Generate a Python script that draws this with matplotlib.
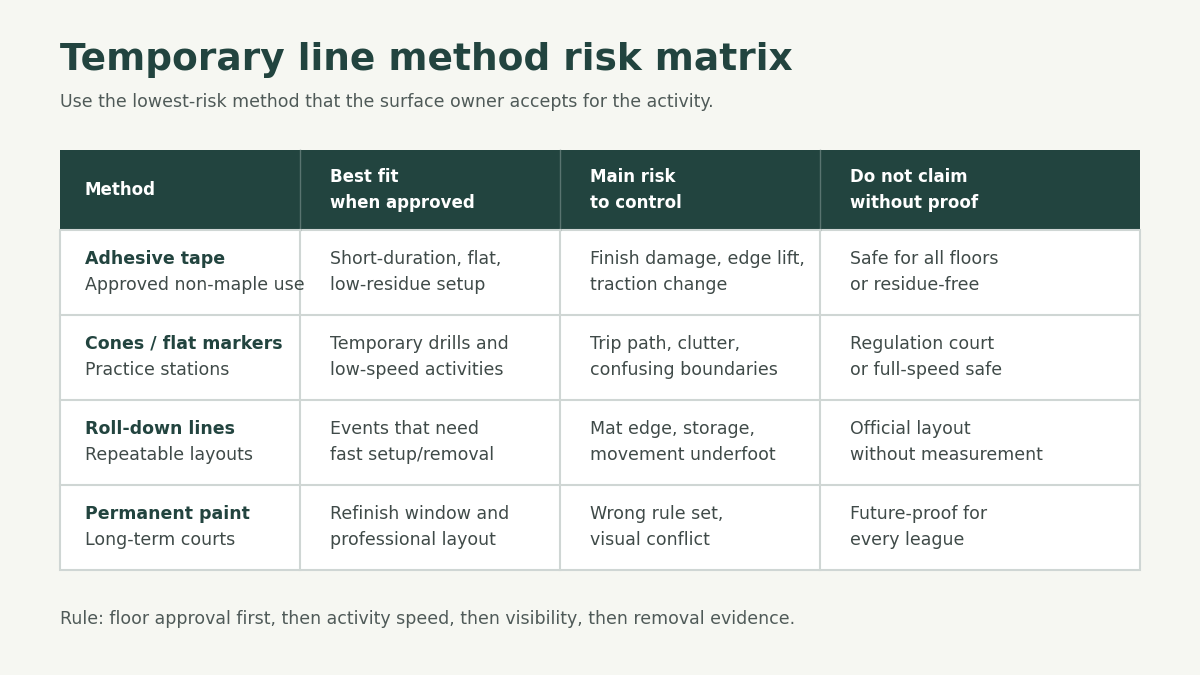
import matplotlib.pyplot as plt
from matplotlib.patches import Rectangle

TITLE = "Temporary line method risk matrix"
SUBTITLE = "Use the lowest-risk method that the surface owner accepts for the activity."
FOOTNOTE = "Rule: floor approval first, then activity speed, then visibility, then removal evidence."

headers = ["Method", "Best fit\nwhen approved", "Main risk\nto control", "Do not claim\nwithout proof"]
methods = ["Adhesive tape", "Cones / flat markers", "Roll-down lines", "Permanent paint"]
method_notes = ["Approved non-maple use", "Practice stations", "Repeatable layouts", "Long-term courts"]
best_fit = ["Short-duration, flat,\nlow-residue setup", "Temporary drills and\nlow-speed activities",
            "Events that need\nfast setup/removal", "Refinish window and\nprofessional layout"]
main_risk = ["Finish damage, edge lift,\ntraction change", "Trip path, clutter,\nconfusing boundaries",
             "Mat edge, storage,\nmovement underfoot", "Wrong rule set,\nvisual conflict"]
no_claim = ["Safe for all floors\nor residue-free", "Regulation court\nor full-speed safe",
            "Official layout\nwithout measurement", "Future-proof for\nevery league"]

BG = "#f6f7f2"
DARK = "#22443f"
BODY = "#3f4a48"
GRID = "#cfd6d4"

col_x = [60, 300, 560, 820, 1140]
header_top, header_bot = 150, 230
row_h = 85

fig = plt.figure(figsize=(12, 6.75), dpi=100, facecolor=BG)
ax = fig.add_axes([0, 0, 1, 1])
ax.set_xlim(0, 1200)
ax.set_ylim(675, 0)
ax.axis("off")

ax.text(60, 60, TITLE, fontsize=27, fontweight="bold", color=DARK, va="center")
ax.text(60, 102, SUBTITLE, fontsize=12.5, color="#4f5a58", va="center")

# header
ax.add_patch(Rectangle((col_x[0], header_top), col_x[-1] - col_x[0], header_bot - header_top,
                       facecolor=DARK, edgecolor="none"))
for i, h in enumerate(headers):
    ax.text(col_x[i] + 25 + (5 if i else 0), (header_top + header_bot) / 2, h, fontsize=12,
            fontweight="bold", color="white", va="center", linespacing=1.6)
for x in col_x[1:-1]:
    ax.plot([x, x], [header_top, header_bot], color="#5a7470", lw=1)

# body
n = len(methods)
body_bot = header_bot + n * row_h
ax.add_patch(Rectangle((col_x[0], header_bot), col_x[-1] - col_x[0], n * row_h,
                       facecolor="white", edgecolor=GRID, lw=1.5))
for r in range(n):
    y0 = header_bot + r * row_h
    if r:
        ax.plot([col_x[0], col_x[-1]], [y0, y0], color=GRID, lw=1.5)
    ya, yb = y0 + 29, y0 + 55
    ax.text(col_x[0] + 25, ya, methods[r], fontsize=12.5, fontweight="bold", color=DARK, va="center")
    ax.text(col_x[0] + 25, yb, method_notes[r], fontsize=12.5, color=BODY, va="center")
    for c, col in enumerate([best_fit, main_risk, no_claim], start=1):
        a, b = col[r].split("\n")
        ax.text(col_x[c] + 30, ya, a, fontsize=12.5, color=BODY, va="center")
        ax.text(col_x[c] + 30, yb, b, fontsize=12.5, color=BODY, va="center")
for x in col_x[1:-1]:
    ax.plot([x, x], [header_bot, body_bot], color=GRID, lw=1.5)

ax.text(60, 619, FOOTNOTE, fontsize=12.5, color="#4f5a58", va="center")

fig.savefig("out.png", dpi=100, facecolor=BG)
